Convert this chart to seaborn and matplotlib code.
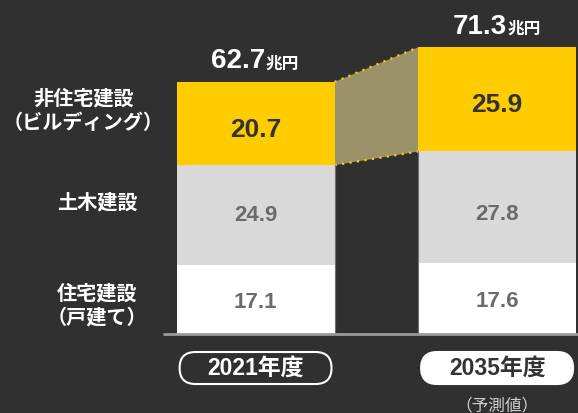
import numpy as np
import pandas as pd
import matplotlib.pyplot as plt
import seaborn as sns
from matplotlib.patches import FancyBboxPatch

# chart data
years = ["2021年度", "2035年度"]
housing = [17.1, 17.6]      # 住宅建設（戸建て）
civil = [24.9, 27.8]        # 土木建設
nonres = [20.7, 25.9]       # 非住宅建設（ビルディング）
totals = [62.7, 71.3]
total_unit = "兆円"
forecast_note = "（予測値）"

df = pd.DataFrame({"year": years, "housing": housing, "civil": civil, "nonres": nonres})
df["lower"] = df["housing"]
df["middle"] = df["housing"] + df["civil"]
df["upper"] = df["middle"] + df["nonres"]

BG = "#303030"
YELLOW = "#FFCC00"
GRAY = "#D9D9D9"
WHITE = "#FFFFFF"
OLIVE = "#9b926a"
NUM_FONT = ["Liberation Sans", "Noto Sans CJK JP"]
JP_FONT = ["Noto Sans CJK JP", "DejaVu Sans"]

sns.set_theme(style="white")
plt.rcParams["font.family"] = NUM_FONT

fig = plt.figure(figsize=(5.78, 4.13), dpi=100, facecolor=BG)
ax = fig.add_axes([0, 0, 1, 1])
ax.set_facecolor(BG)

W = 0.654
# stacked bars: draw the full heights first, then cover with lower layers
for col, colr in [("upper", YELLOW), ("middle", GRAY), ("lower", WHITE)]:
    sns.barplot(data=df, x="year", y=col, color=colr, width=W, saturation=1,
                errorbar=None, ax=ax, zorder=2, linewidth=0, edgecolor="none")

ax.set_xlim(-1.058, 1.335)
ax.set_ylim(-19.65, 83.08)
ax.set_axis_off()

# connector between the yellow segments
x0, x1 = 0 + W / 2, 1 - W / 2
ax.fill([x0, x1, x1, x0], [df["upper"][0], df["upper"][1], df["middle"][1], df["middle"][0]],
        color=OLIVE, zorder=1, lw=0)
for col in ["upper", "middle"]:
    ax.plot([x0, x1], [df[col][0], df[col][1]], color=YELLOW, lw=1.6,
            linestyle=(0, (1, 2.4)), zorder=3)
for xe in [x0, x1]:
    ax.plot([xe, xe], [0, df["middle"][int(xe > 0.5)]], color="#6e6e6e", lw=0.8, zorder=3)

# baseline
ax.axhline(0, xmin=164 / 578, xmax=1, color="#9a9a9a", lw=2, zorder=4)

# segment values
for i in range(len(years)):
    ax.text(i, df["middle"][i] + nonres[i] / 2 - 1.5, f"{nonres[i]:.1f}", ha="center", va="center",
            fontsize=19, fontweight="bold", color="#333333", family=NUM_FONT, zorder=5)
    ax.text(i, df["lower"][i] + civil[i] / 2 - (0 if i == 0 else 1.8), f"{civil[i]:.1f}",
            ha="center", va="center", fontsize=16, fontweight="bold", color="#6b6b6b",
            family=NUM_FONT, zorder=5)
    ax.text(i, housing[i] / 2 - 0.8, f"{housing[i]:.1f}", ha="center", va="center",
            fontsize=16, fontweight="bold", color="#6b6b6b", family=NUM_FONT, zorder=5)
    # totals
    ax.annotate(f"{totals[i]:.1f}", xy=(i, totals[i] + 3.4), xytext=(7, 0),
                textcoords="offset points", ha="right", va="baseline",
                fontsize=20, fontweight="bold", color="white", family=NUM_FONT)
    ax.annotate(total_unit, xy=(i, totals[i] + 3.4), xytext=(7.5, 0),
                textcoords="offset points", ha="left", va="baseline",
                fontsize=12, fontweight="bold", color="white", family=JP_FONT)

# year boxes
box_w, box_h, box_bottom = 0.629, 7.96, -12.44
for i, yr in enumerate(years):
    filled = i == 1
    box = FancyBboxPatch((i - box_w / 2, box_bottom), box_w, box_h,
                         boxstyle="round,pad=0,rounding_size=0.066",
                         mutation_aspect=60.07, facecolor="white" if filled else BG,
                         edgecolor="white", lw=1.5, zorder=5)
    ax.add_patch(box)
    ax.text(i, box_bottom + box_h / 2, yr, ha="center", va="center", fontsize=16.5,
            fontweight="bold", color="#333333" if filled else "white",
            family=NUM_FONT, zorder=6)

ax.text(1, -17.9, forecast_note, ha="center", va="center", fontsize=12,
        color="#d0d0d0", family=JP_FONT)

# category labels on the left
ax.text(-0.712, 55.7, "非住宅建設\n（ビルディング）", ha="center", va="center", fontsize=14.5,
        fontweight="bold", color="white", family=JP_FONT, linespacing=1.2)
ax.text(-0.656, 32.8, "土木建設", ha="center", va="center", fontsize=14.5,
        fontweight="bold", color="white", family=JP_FONT)
ax.text(-0.656, 7.3, "住宅建設\n（戸建て）", ha="center", va="center", fontsize=14.5,
        fontweight="bold", color="white", family=JP_FONT, linespacing=1.2)

fig.savefig("out.png", dpi=100, facecolor=BG)
